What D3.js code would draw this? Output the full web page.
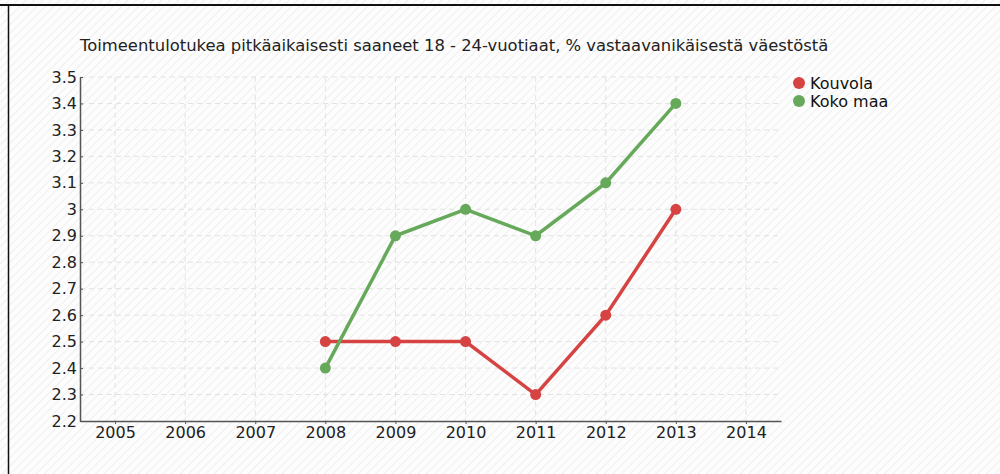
<!DOCTYPE html>
<html>
<head>
<meta charset="utf-8">
<script src="https://cdn.jsdelivr.net/npm/d3@7"></script>
<style>
  body { margin: 0; background: #fff; }
  svg { display: block; font-family: "DejaVu Sans", sans-serif; }
</style>
</head>
<body>
<div id="chart"></div>
<script>
// data
var years = [2008, 2009, 2010, 2011, 2012, 2013];
var kouvola = [2.5, 2.5, 2.5, 2.3, 2.6, 3.0];
var kokoMaa = [2.4, 2.9, 3.0, 2.9, 3.1, 3.4];
var seriesNames = ["Kouvola", "Koko maa"];
var seriesColors = ["#d64343", "#67a95a"];
var xTicks = [2005, 2006, 2007, 2008, 2009, 2010, 2011, 2012, 2013, 2014];
var yTicks = [2.2, 2.3, 2.4, 2.5, 2.6, 2.7, 2.8, 2.9, 3, 3.1, 3.2, 3.3, 3.4, 3.5];
var title = "Toimeentulotukea pitkäaikaisesti saaneet 18 - 24-vuotiaat, % vastaavanikäisestä väestöstä";

var width = 1000, height = 474;
var m = {left: 80, right: 781, top: 77, bottom: 421};

var svg = d3.select("#chart").append("svg")
  .attr("width", width)
  .attr("height", height);

// striped background
var pat = svg.append("defs").append("pattern")
  .attr("id", "stripes")
  .attr("patternUnits", "userSpaceOnUse")
  .attr("width", 6).attr("height", 6)
  .attr("patternTransform", "rotate(45)");
pat.append("rect").attr("width", 6).attr("height", 6).attr("fill", "#fdfdfd");
pat.append("line").attr("x1", 0).attr("y1", 0).attr("x2", 0).attr("y2", 6)
  .attr("stroke", "#efefef").attr("stroke-width", 2);
svg.append("rect").attr("width", width).attr("height", height).attr("fill", "url(#stripes)");

// frame lines
svg.append("line").attr("x1", 0).attr("x2", width).attr("y1", 5).attr("y2", 5)
  .attr("stroke", "#111").attr("stroke-width", 2);
svg.append("line").attr("x1", 8.5).attr("x2", 8.5).attr("y1", 5).attr("y2", height)
  .attr("stroke", "#111").attr("stroke-width", 1.5);

var x = d3.scaleLinear().domain([2004.5, 2014.5]).range([m.left, m.right]);
var y = d3.scaleLinear().domain([2.2, 3.5]).range([m.bottom, m.top]);

// grid
var grid = svg.append("g").attr("stroke", "#e2e2e2").attr("stroke-dasharray", "5,4");
grid.selectAll(".gx").data(xTicks).enter().append("line")
  .attr("x1", function(d) { return x(d); }).attr("x2", function(d) { return x(d); })
  .attr("y1", m.top).attr("y2", m.bottom);
grid.selectAll(".gy").data(yTicks.slice(1)).enter().append("line")
  .attr("x1", m.left).attr("x2", m.right)
  .attr("y1", function(d) { return y(d); }).attr("y2", function(d) { return y(d); });

// axes
var xAxis = svg.append("g")
  .attr("transform", "translate(0," + m.bottom + ")")
  .call(d3.axisBottom(x).tickValues(xTicks).tickFormat(d3.format("d")).tickSizeInner(3).tickSizeOuter(0));
xAxis.selectAll("text").attr("y", 3).attr("dy", "0.85em");

var yAxis = svg.append("g")
  .attr("transform", "translate(" + m.left + ",0)")
  .call(d3.axisLeft(y).tickValues(yTicks).tickFormat(function(d) { return String(d); }).tickSizeInner(3).tickSizeOuter(0));
yAxis.selectAll(".tick line").attr("x2", 3);
yAxis.selectAll("text").attr("x", -3);

svg.selectAll(".domain").attr("stroke", "#555").attr("stroke-width", 1.5);
svg.selectAll(".tick line").attr("stroke", "#555");
svg.selectAll(".tick text").attr("fill", "#222").style("font-size", "16px")
  .style("font-family", "DejaVu Sans, sans-serif");

// title
svg.append("text").attr("x", m.left).attr("y", 51)
  .attr("fill", "#222").style("font-size", "16.4px").text(title);

// series
var allSeries = [kouvola, kokoMaa];
var line = d3.line()
  .x(function(d, i) { return x(years[i]); })
  .y(function(d) { return y(d); });

allSeries.forEach(function(vals, s) {
  svg.append("path").datum(vals)
    .attr("d", line)
    .attr("fill", "none")
    .attr("stroke", seriesColors[s])
    .attr("stroke-width", 3.5);
  svg.selectAll(".dot" + s).data(vals).enter().append("circle")
    .attr("cx", function(d, i) { return x(years[i]); })
    .attr("cy", function(d) { return y(d); })
    .attr("r", 5.5)
    .attr("fill", seriesColors[s]);
});

// legend
var legend = svg.append("g").attr("transform", "translate(799,83)");
seriesNames.forEach(function(name, i) {
  legend.append("circle").attr("cx", 0).attr("cy", i * 18).attr("r", 6).attr("fill", seriesColors[i]);
  legend.append("text").attr("x", 11).attr("y", i * 18 + 6)
    .attr("fill", "#111").style("font-size", "16px").text(name);
});
</script>
</body>
</html>
